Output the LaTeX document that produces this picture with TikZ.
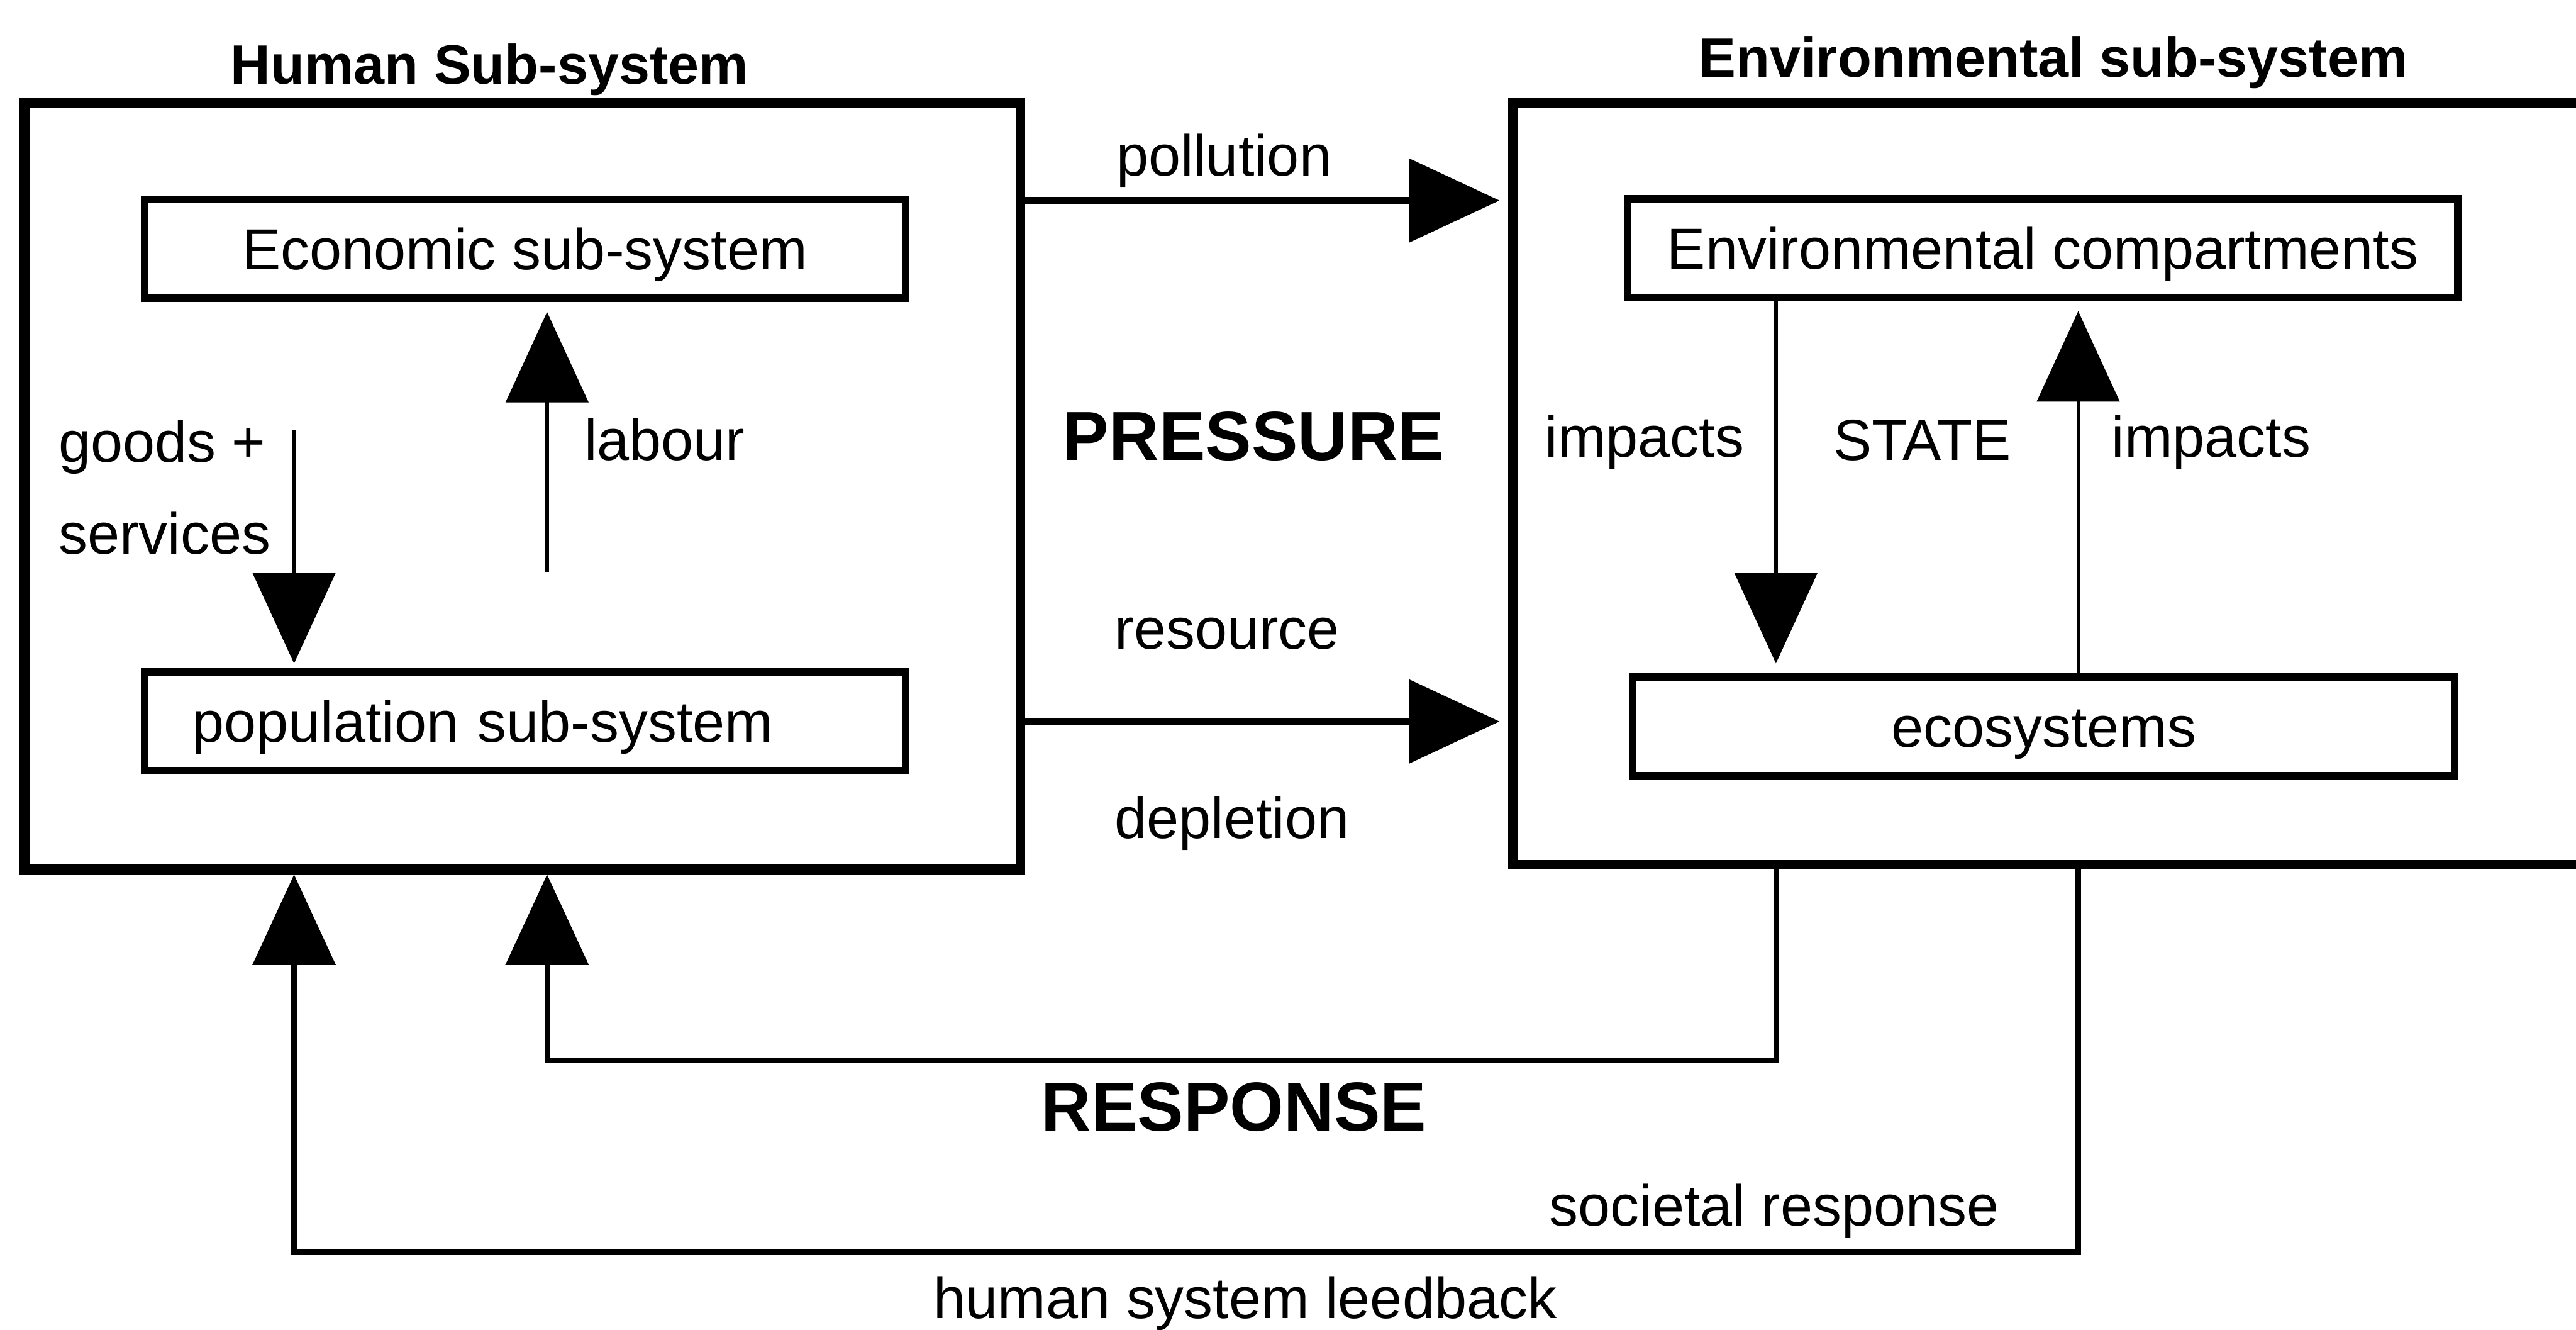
\documentclass[tikz,border=0pt]{standalone}
\usepackage{fontspec}
\setmainfont{Liberation Sans}
\usetikzlibrary{arrows.meta}

\begin{document}
\begin{tikzpicture}[x=0.01cm, y=-0.01cm]
    \tikzset{
        outerbox/.style={draw, line width=1.7pt, inner sep=0pt},
        subbox/.style={draw, line width=1.3pt, minimum height=0.6cm, inner sep=0pt, text height=0.25cm, text depth=0cm, font=\fontsize{10}{12}\selectfont},
        lbl/.style={anchor=base, inner sep=0pt, font=\fontsize{10}{12}\selectfont},
        title/.style={anchor=base, inner sep=0pt, font=\fontsize{9.6}{11}\selectfont\bfseries},
        big/.style={anchor=base, inner sep=0pt, font=\fontsize{12}{14}\selectfont\bfseries},
        tip/.style={-{Triangle[length=0.55cm, width=0.5cm]}},
        flow/.style={tip, line width=1.3pt},
        link/.style={tip, line width=0.65pt},
        fback/.style={tip, line width=0.9pt}
    }
    \useasboundingbox (0,0) rectangle (1568,809);
    % the two sub-systems
    \node[outerbox, minimum width=6.06cm, minimum height=4.66cm] (human) at (318,296) {};
    \node[outerbox, minimum width=6.7cm, minimum height=4.63cm] (env) at (1256,294.5) {};
    \node[title] (humant) at (298,51) {Human Sub-system};
    \node[title] (envt) at (1250,47) {Environmental sub-system};
    % inner boxes
    \node[subbox, minimum width=4.63cm] (eco) at (319.5,151.5) {Economic sub-system};
    \node[subbox, minimum width=4.63cm, text width=4.05cm, inner xsep=0.29cm, align=left] (pop) at (319.5,439) {population sub-system};
    \node[subbox, minimum width=5.05cm] (comp) at (1243.5,151) {Environmental compartments};
    \node[subbox, minimum width=5.0cm] (ecos) at (1244,442) {ecosystems};
    % free ends and bends
    \coordinate (gx) at (179,262);
    \coordinate (lx) at (333,348);
    \coordinate (dx) at (1081,0);
    \coordinate (ux) at (1265,0);
    \coordinate (pl) at (0,122);
    \coordinate (rline) at (0,645);
    \coordinate (fline) at (0,762);
    % arrows
    \draw[link, shorten >=0.03cm] (gx) -- (gx |- pop.north);
    \draw[link, shorten >=0.06cm] (lx) -- (lx |- eco.south);
    \draw[link, shorten >=0.06cm] (dx |- comp.south) -- (dx |- ecos.north);
    \draw[link, shorten >=0.06cm] (ux |- ecos.north) -- (ux |- comp.south);
    \draw[flow, shorten >=0.05cm] (human.east |- pl) -- (env.west |- pl);
    \draw[flow, shorten >=0.05cm] (human.east |- pop) -- (env.west |- pop);
    \draw[fback] (dx |- env.south) -- (dx |- rline) -- (lx |- rline) -- (lx |- human.south);
    \draw[fback] (ux |- env.south) -- (ux |- fline) -- (gx |- fline) -- (gx |- human.south);
    % labels
    \node[lbl, anchor=base west] (goods) at (35,281) {goods +};
    \node[lbl, anchor=base west] (serv) at (35,337) {services};
    \node[lbl, anchor=base west] (labour) at (355,280) {labour};
    \node[lbl] (poll) at (745,107) {pollution};
    \node[big] (press) at (763,280) {PRESSURE};
    \node[lbl] (res) at (747,395) {resource};
    \node[lbl] (depl) at (750,510) {depletion};
    \node[lbl] (imp1) at (1001,278) {impacts};
    \node[lbl] (state) at (1170,280) {STATE};
    \node[lbl] (imp2) at (1346,278) {impacts};
    \node[big] (respt) at (751,688) {RESPONSE};
    \node[lbl] (soc) at (1080,746) {societal response};
    \node[lbl] (hsf) at (758,802) {human system leedback};
\end{tikzpicture}
\end{document}
